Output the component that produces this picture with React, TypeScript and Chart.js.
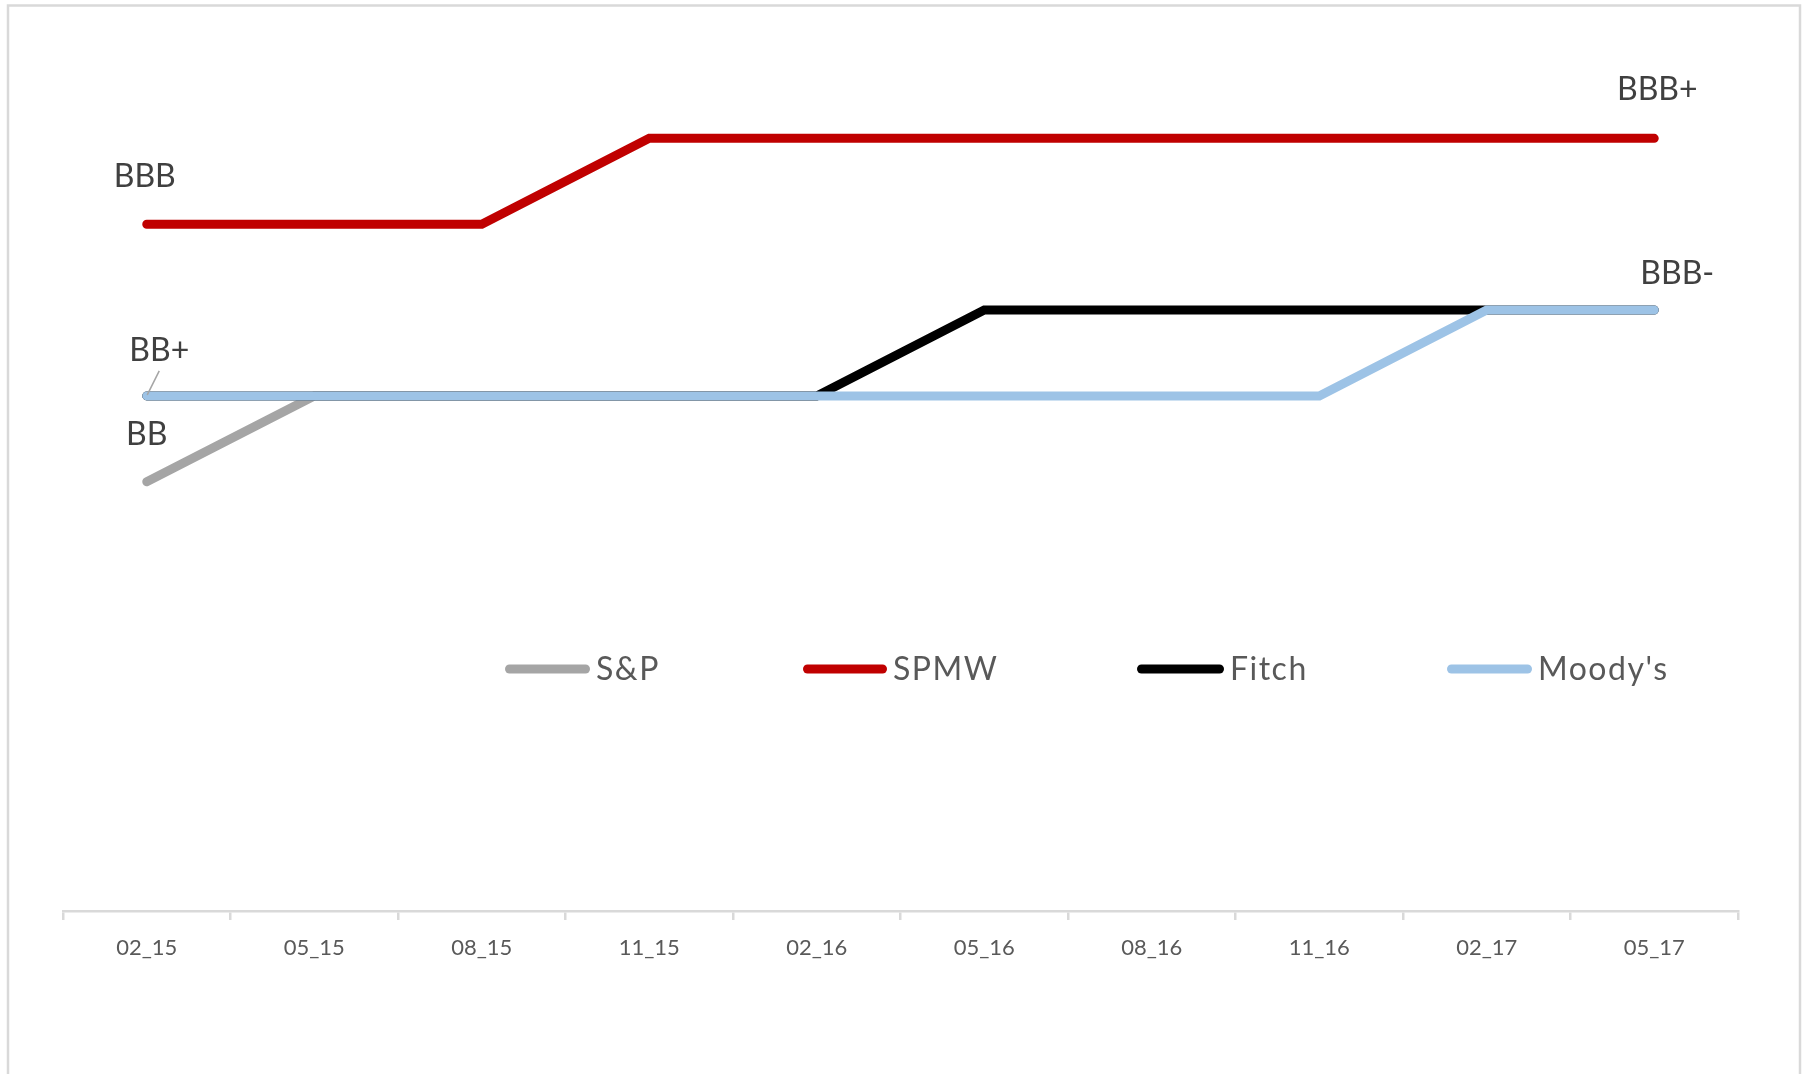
import React, { useEffect, useRef } from 'react';
import { Chart, registerables } from 'chart.js';

Chart.register(...registerables);

// ---------- data ----------
const categories = ['02_15', '05_15', '08_15', '11_15', '02_16', '05_16', '08_16', '11_16', '02_17', '05_17'];
const ratingScale = ['BB', 'BB+', 'BBB-', 'BBB', 'BBB+'];
const seriesNames = ['S&P', 'SPMW', 'Fitch', "Moody's"];
const seriesColors = ['#A5A5A5', '#C00000', '#000000', '#9DC3E6'];
const spRatings = ['BB', 'BB+', 'BB+', 'BB+', 'BB+', null, null, null, null, null];
const spmwRatings = ['BBB', 'BBB', 'BBB', 'BBB+', 'BBB+', 'BBB+', 'BBB+', 'BBB+', 'BBB+', 'BBB+'];
const fitchRatings = ['BB+', 'BB+', 'BB+', 'BB+', 'BB+', 'BBB-', 'BBB-', 'BBB-', 'BBB-', 'BBB-'];
const moodysRatings = ['BB+', 'BB+', 'BB+', 'BB+', 'BB+', 'BB+', 'BB+', 'BB+', 'BBB-', 'BBB-'];
const yMin = -4;
const yMax = 6;
// data labels: which series / point carries which text
const ratingLabels = [
  { series: 1, index: 0, text: 'BBB' },
  { series: 1, index: 9, text: 'BBB+' },
  { series: 3, index: 9, text: 'BBB-' },
  { series: 3, index: 0, text: 'BB+' },
  { series: 0, index: 0, text: 'BB' },
];

const toValue = (r: string | null) => (r === null ? null : ratingScale.indexOf(r) + 1);
const allRatings = [spRatings, spmwRatings, fitchRatings, moodysRatings];

// ---------- layout / style (not data) ----------
const FONT = 'Lato, "Open Sans", sans-serif';
const labelOffsets = [
  { dx: -2, dy: -49 },
  { dx: 3, dy: -50 },
  { dx: 23, dy: -37.5 },
  { dx: 12.5, dy: -46, leader: true },
  { dx: 0, dy: -48 },
];
const legendLayout = [
  { x0: 505, x1: 590 },
  { x0: 803, x1: 887 },
  { x0: 1137, x1: 1224 },
  { x0: 1447, x1: 1532 },
];
const legendY = 669;

const framePlugin = {
  id: 'frame',
  beforeDraw(chart: any) {
    const ctx = chart.ctx;
    ctx.save();
    ctx.fillStyle = '#ffffff';
    ctx.fillRect(0, 0, chart.width, chart.height);
    ctx.strokeStyle = '#D9D9D9';
    ctx.lineWidth = 2.5;
    ctx.strokeRect(8, 5.5, 1792, 1100);
    ctx.restore();
  },
};

const labelsPlugin = {
  id: 'ratingLabels',
  afterDatasetsDraw(chart: any) {
    const ctx = chart.ctx;
    ctx.save();
    ctx.font = `32px ${FONT}`;
    ctx.fillStyle = '#404040';
    ctx.textAlign = 'center';
    ctx.textBaseline = 'alphabetic';
    ratingLabels.forEach((lab, i) => {
      const meta = chart.getDatasetMeta(lab.series);
      const pt = meta.data[lab.index];
      if (!pt) return;
      const off = labelOffsets[i];
      const cx = pt.x + off.dx;
      const cy = pt.y + off.dy;
      ctx.fillText(lab.text, cx, cy + 11.5);
      if (off.leader) {
        ctx.save();
        ctx.strokeStyle = '#A5A5A5';
        ctx.lineWidth = 1.5;
        ctx.beginPath();
        ctx.moveTo(pt.x + 12.5, pt.y - 25);
        ctx.lineTo(pt.x + 0.5, pt.y - 1);
        ctx.stroke();
        ctx.restore();
      }
    });
    ctx.restore();
  },
};

const legendPlugin = {
  id: 'customLegend',
  afterDraw(chart: any) {
    const ctx = chart.ctx;
    ctx.save();
    ctx.font = `32px ${FONT}`;
    ctx.textAlign = 'left';
    ctx.textBaseline = 'alphabetic';
    seriesNames.forEach((name, i) => {
      const l = legendLayout[i];
      ctx.strokeStyle = seriesColors[i];
      ctx.lineWidth = 9;
      ctx.lineCap = 'round';
      ctx.beginPath();
      ctx.moveTo(l.x0 + 4.5, legendY);
      ctx.lineTo(l.x1 - 4.5, legendY);
      ctx.stroke();
      ctx.fillStyle = '#595959';
      try {
        (ctx as any).letterSpacing = '1.5px';
      } catch (e) {
        /* ignore */
      }
      ctx.fillText(name, l.x1 + 6, legendY - 1 + 11.5);
      try {
        (ctx as any).letterSpacing = '0px';
      } catch (e) {
        /* ignore */
      }
    });
    ctx.restore();
  },
};

export default function App() {
  const canvasRef = useRef<HTMLCanvasElement | null>(null);

  useEffect(() => {
    if (!canvasRef.current) return;
    const datasets = allRatings.map((ratings, i) => ({
      label: seriesNames[i],
      data: ratings.map(toValue),
      borderColor: seriesColors[i],
      backgroundColor: seriesColors[i],
      borderWidth: 9,
      borderCapStyle: 'round' as const,
      borderJoinStyle: 'miter' as const,
      pointRadius: 0,
      pointHoverRadius: 0,
      tension: 0,
      fill: false,
      spanGaps: false,
      order: 3 - i,
    }));
    const chart = new Chart(canvasRef.current, {
      type: 'line',
      data: { labels: categories, datasets },
      plugins: [framePlugin, labelsPlugin, legendPlugin],
      options: {
        responsive: false,
        animation: false,
        devicePixelRatio: 1,
        layout: { padding: { left: 63, right: 67, top: 52.5, bottom: 97.6 } },
        plugins: {
          legend: { display: false },
          tooltip: { enabled: false },
          title: { display: false },
        },
        scales: {
          x: {
            type: 'category',
            offset: true,
            grid: {
              offset: true,
              display: true,
              drawOnChartArea: false,
              drawTicks: true,
              tickLength: 9,
              color: '#D9D9D9',
              lineWidth: 2.5,
            },
            border: { display: true, color: '#D9D9D9', width: 2.5 },
            ticks: {
              color: '#595959',
              font: { family: FONT, size: 22 },
              padding: 15,
              maxRotation: 0,
              autoSkip: false,
            },
          },
          y: {
            display: false,
            min: yMin,
            max: yMax,
          },
        },
      },
    });
    return () => chart.destroy();
  }, []);

  return (
    <div style={{ position: 'absolute', left: 0, top: 0, width: 1805, height: 1074, background: '#fff' }}>
      <canvas ref={canvasRef} width={1805} height={1074} style={{ display: 'block', width: 1805, height: 1074 }} />
    </div>
  );
}
